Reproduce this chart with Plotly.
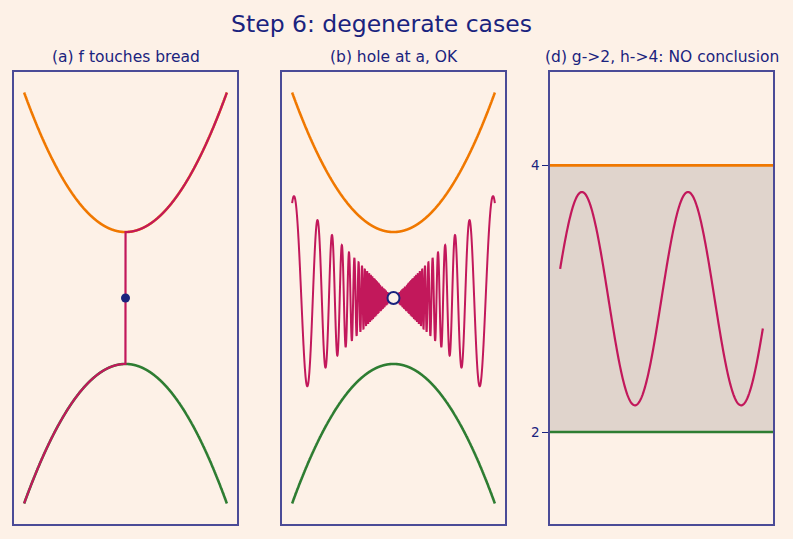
import numpy as np
import plotly.graph_objects as go

# ---------------- data / parameters ----------------
TITLE = "Step 6: degenerate cases"
SUBTITLES = ["(a) f touches bread", "(b) hole at a, OK", "(d) g->2, h->4: NO conclusion"]

# panels (a) and (b): bread h(x) = H0 + HC*x^2 (upper), g(x) = -h(x) (lower)
X_LIMITS_AB = [-1.5, 1.5]
H0 = 1.0
HC = 0.94
N_SAMPLES_AB = 2000
# panel (b): f(x) = OSC_AMP * x * sin(OSC_K / x), hole at x = 0
OSC_AMP = 1.05
OSC_K = 30.0
HOLE_POINT = [0.0, 0.0]
# panel (a): f = g for x<0, f = h for x>0, f(0) = 0
DOT_POINT = [0.0, 0.0]

# panel (d): g -> 2, h -> 4, f = MID + AMP*sin(FREQ*x)
X_LIMITS_D = [-1.0, 1.0]
G_LIMIT = 2.0
H_LIMIT = 4.0
D_MID = 3.0
D_AMP = 0.8
D_FREQ = 6.0
D_YTICKS = [2, 4]
D_YRANGE = [1.31, 4.70]
N_SAMPLES_D = 400

# ---------------- styles ----------------
BG = "#fdf1e7"
NAVY = "#1a237e"
FRAME = "#4b4b97"
ORANGE = "#f07800"
GREEN = "#2e7d32"
CRIMSON = "#c2185b"
BAND = "#e0d4cc"
FONT = "DejaVu Sans"

W, H = 793, 539
def px_x(p): return p / W
def px_y(p): return (H - p) / H

DOMS = [[px_x(14), px_x(237)], [px_x(282), px_x(505)], [px_x(550), px_x(773)]]
YDOM = [px_y(524), px_y(72)]

fig = go.Figure()

def line_trace(x, y, color, width, xa, ya):
    return go.Scatter(x=x, y=y, mode="lines",
                      line=dict(color=color, width=width, simplify=False),
                      xaxis=xa, yaxis=ya, showlegend=False, hoverinfo="skip")

x_ab = np.linspace(X_LIMITS_AB[0], X_LIMITS_AB[1], N_SAMPLES_AB)
h_ab = H0 + HC * x_ab ** 2
g_ab = -h_ab

# ---- panel (a)
fig.add_trace(line_trace(x_ab, h_ab, ORANGE, 2.6, "x", "y"))
fig.add_trace(line_trace(x_ab, g_ab, GREEN, 2.6, "x", "y"))
f_a = np.where(x_ab < 0, g_ab, h_ab)
fig.add_trace(line_trace(x_ab, f_a, CRIMSON, 2.2, "x", "y"))
fig.add_trace(go.Scatter(x=[DOT_POINT[0]], y=[DOT_POINT[1]], mode="markers",
                         marker=dict(color=NAVY, size=9, line=dict(width=0)),
                         xaxis="x", yaxis="y", showlegend=False, hoverinfo="skip"))

# ---- panel (b)
fig.add_trace(line_trace(x_ab, h_ab, ORANGE, 2.6, "x2", "y2"))
fig.add_trace(line_trace(x_ab, g_ab, GREEN, 2.6, "x2", "y2"))
f_b = OSC_AMP * x_ab * np.sin(OSC_K / x_ab)
fig.add_trace(line_trace(x_ab, f_b, CRIMSON, 2.0, "x2", "y2"))
fig.add_trace(go.Scatter(x=[HOLE_POINT[0]], y=[HOLE_POINT[1]], mode="markers",
                         marker=dict(color=BG, size=12, line=dict(color=NAVY, width=2)),
                         xaxis="x2", yaxis="y2", showlegend=False, hoverinfo="skip"))

# ---- panel (d)
pad = 0.05 * (X_LIMITS_D[1] - X_LIMITS_D[0])
xr_d = [X_LIMITS_D[0] - pad, X_LIMITS_D[1] + pad]
fig.add_trace(go.Scatter(x=[xr_d[0], xr_d[1], xr_d[1], xr_d[0]],
                         y=[G_LIMIT, G_LIMIT, H_LIMIT, H_LIMIT], mode="lines",
                         fill="toself", fillcolor=BAND, line=dict(width=0),
                         xaxis="x3", yaxis="y3", showlegend=False, hoverinfo="skip"))
fig.add_trace(line_trace(xr_d, [H_LIMIT, H_LIMIT], ORANGE, 2.6, "x3", "y3"))
fig.add_trace(line_trace(xr_d, [G_LIMIT, G_LIMIT], GREEN, 2.6, "x3", "y3"))
x_d = np.linspace(X_LIMITS_D[0], X_LIMITS_D[1], N_SAMPLES_D)
fig.add_trace(line_trace(x_d, D_MID + D_AMP * np.sin(D_FREQ * x_d), CRIMSON, 2.2, "x3", "y3"))

# ---- axes
ytop = H0 + HC * X_LIMITS_AB[1] ** 2
yr_ab = [-1.1 * ytop, 1.1 * ytop]
xpad_ab = 0.05 * (X_LIMITS_AB[1] - X_LIMITS_AB[0])
xr_ab = [X_LIMITS_AB[0] - xpad_ab, X_LIMITS_AB[1] + xpad_ab]

def frame_axis(**kw):
    base = dict(showline=True, mirror=True, linecolor=FRAME, linewidth=1.6,
                showgrid=False, zeroline=False, showticklabels=False, ticks="",
                fixedrange=True)
    base.update(kw)
    return base

fig.update_layout(
    width=W, height=H,
    margin=dict(l=0, r=0, t=0, b=0),
    paper_bgcolor=BG, plot_bgcolor=BG,
    font=dict(family=FONT, color=NAVY),
    xaxis=frame_axis(domain=DOMS[0], range=xr_ab, anchor="y"),
    yaxis=frame_axis(domain=YDOM, range=yr_ab, anchor="x"),
    xaxis2=frame_axis(domain=DOMS[1], range=xr_ab, anchor="y2"),
    yaxis2=frame_axis(domain=YDOM, range=yr_ab, anchor="x2"),
    xaxis3=frame_axis(domain=DOMS[2], range=xr_d, anchor="y3"),
    yaxis3=frame_axis(domain=YDOM, range=D_YRANGE, anchor="x3",
                      showticklabels=True, ticks="outside", ticklen=6, tickwidth=1.3,
                      tickcolor=NAVY, tickvals=D_YTICKS,
                      ticktext=[str(t) for t in D_YTICKS],
                      tickfont=dict(size=13.5, color=NAVY, family=FONT)),
    title=dict(text=TITLE, x=px_x(381.5), xanchor="center", y=px_y(24), yanchor="middle",
               font=dict(size=23.5, color=NAVY, family=FONT)),
    showlegend=False,
)

for dom, txt in zip(DOMS, SUBTITLES):
    fig.add_annotation(text=txt, x=(dom[0] + dom[1]) / 2, xref="paper", xanchor="center",
                       y=px_y(56.5), yref="paper", yanchor="middle", showarrow=False,
                       font=dict(size=15.5, color=NAVY, family=FONT))

fig.write_html("out.html")
